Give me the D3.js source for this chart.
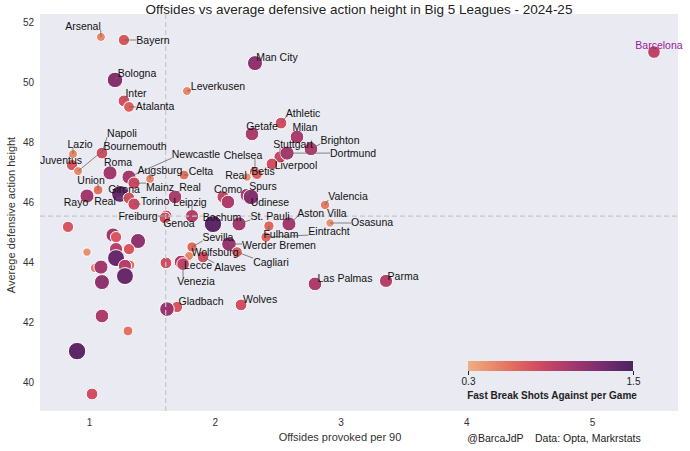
<!DOCTYPE html>
<html><head><meta charset="utf-8">
<script src="https://cdn.jsdelivr.net/npm/d3@7"></script>
<style>body{margin:0;background:#fff;} text{font-family:"Liberation Sans",Arial,sans-serif;}</style>
</head><body><svg id="c" width="690" height="451"></svg>
<script>
// ---- data ----
const teams = ["Arsenal","Bayern","Bologna","Inter","Atalanta","Leverkusen","Man City","Barcelona","Getafe","Athletic","Milan","Brighton","Stuttgart","Dortmund","Liverpool","Chelsea","Betis","Real","Como","","Spurs","Udinese","Valencia","Osasuna","Aston Villa","St. Pauli","Bochum","Fulham","Eintracht","Werder Bremen","Sevilla","Cagliari","Wolfsburg","Alaves","Lecce","Venezia","Las Palmas","Parma","Wolves","Gladbach","","Lazio","Juventus","Bournemouth","Napoli","Roma","Newcastle","Augsburg","Mainz","Celta","Union","Rayo","Girona","Real","Torino","Real","Leipzig","Freiburg","Genoa","","","","","","","","","","","","","","","","","","",""];
const offsides = [1.095,1.278,1.207,1.278,1.318,1.779,2.320,5.493,2.296,2.527,2.654,2.765,2.519,2.575,2.455,2.320,2.336,2.256,2.066,2.105,2.256,2.288,2.877,2.917,2.590,2.193,1.986,2.431,2.408,2.113,1.819,2.177,1.795,1.907,1.732,1.748,2.797,3.362,2.209,1.700,1.620,0.873,0.865,0.913,1.103,1.167,1.318,1.485,1.358,1.755,1.072,0.984,1.247,1.318,1.358,1.684,1.819,1.612,1.604,0.833,1.191,1.215,1.390,0.984,1.215,1.318,1.215,1.048,1.095,1.326,1.286,1.286,1.103,1.103,1.310,0.905,1.024,1.612];
const defHeight = [51.5,51.4,50.07,49.37,49.17,49.7,50.63,51.0,48.27,48.63,48.17,47.77,47.5,47.63,47.27,47.0,46.93,46.83,46.17,46.0,46.23,46.17,45.9,45.3,45.27,45.27,45.27,45.2,44.83,44.6,44.5,44.33,44.2,44.17,44.0,43.93,43.27,43.37,42.57,42.5,42.43,47.6,47.23,47.03,47.63,46.97,46.83,46.77,46.63,46.9,46.4,46.2,46.27,46.13,45.93,46.17,45.53,45.53,45.47,45.17,44.9,44.83,44.7,44.33,44.43,44.43,44.13,43.8,43.83,43.9,43.87,43.53,43.33,42.2,41.7,41.03,39.6,43.97];
const fastBreak = [0.5,0.75,1.2,0.8,0.7,0.5,1.15,0.9,1.0,0.8,1.0,1.0,0.85,1.05,0.8,0.75,0.7,0.45,0.85,1.0,1.0,1.2,0.55,0.45,1.05,1.05,1.4,0.65,0.65,1.1,0.65,0.7,0.5,0.8,1.0,0.9,1.0,0.95,0.8,0.75,1.1,0.5,0.75,0.5,0.8,1.05,1.05,0.5,0.85,0.6,0.6,1.05,1.35,0.8,0.85,1.0,0.95,0.85,0.8,0.75,1.05,0.75,1.15,0.45,0.95,0.75,1.35,0.55,1.05,0.6,0.95,1.35,1.15,1.0,0.6,1.4,0.8,0.8];
const xTicks = [1,2,3,4,5];
const yTicks = [40,42,44,46,48,50,52];
const meanX = 1.61, meanY = 45.53;
const cbTicks = [0.3,1.5];

// ---- layout: label offsets (px from point) ----
const labelOffsets = {
 0:[-18,-11],1:[29,0],2:[22,-7],3:[12,-8],4:[26,-1],5:[31,-5],6:[22,-6],7:[5,-7],8:[10,-8],9:[22,-10],10:[8,-10],
 11:[29,-9],12:[13,-13],13:[66,0],14:[24,1],15:[-12,-17],16:[6,-3],17:[-11,-2],18:[5,-8],20:[16,-9],21:[19,5],
 22:[23,-9],23:[42,-1],24:[33,-11],25:[31,-8],26:[9,-7],27:[12,8],28:[63,-6],29:[50,1],30:[26,-10],31:[34,10],
 32:[26,-4],33:[27,10],34:[17,3],35:[13,17],36:[30,-6],37:[17,-5],38:[19,-6],39:[24,-6],
 41:[7,-10],42:[-11,-5],43:[57,-25],44:[20,-20],45:[8,-11],46:[67,-23],47:[10,-9],48:[26,4],49:[17,-4],50:[-7,-10],
 51:[-11,6],52:[4,-5],53:[-24,3],54:[21,-3],55:[15,-10],56:[-2,-14],57:[-28,0],58:[14,5]
};

const svg = d3.select("#c");
const m = {l:40, r:678, t:14, b:411};
const x = d3.scaleLinear().domain([0.6103,5.684]).range([m.l,m.r]);
const y = d3.scaleLinear().domain([39.033,52.267]).range([m.b,m.t]);
const stops = ["#edb081","#e98d6b","#e3685c","#d14a61","#b13c6c","#8f3371","#6c2b6d","#4b2362"];
const interp = d3.interpolateRgbBasis(stops);
const color = v => interp(Math.max(0,Math.min(1,(v-0.3)/1.2)));
const rad = d3.scaleLinear().domain([0.3,1.5]).range([3.5,9.2]);

svg.append("rect").attr("x",m.l).attr("y",m.t).attr("width",m.r-m.l).attr("height",m.b-m.t).attr("fill","#eaeaf2");

// axes
const xa = svg.append("g").attr("transform",`translate(0,${m.b})`).call(d3.axisBottom(x).tickValues(xTicks).tickSize(0).tickPadding(8).tickFormat(d3.format("d")));
const ya = svg.append("g").attr("transform",`translate(${m.l},0)`).call(d3.axisLeft(y).tickValues(yTicks).tickSize(0).tickPadding(6).tickFormat(d3.format("d")));
[xa,ya].forEach(a=>{a.select(".domain").remove(); a.selectAll("text").attr("font-size",10).attr("fill","#333").style("font-family","Liberation Sans, Arial, sans-serif");});

svg.append("text").attr("x",359).attr("y",14).attr("text-anchor","middle").attr("font-size",13.5).attr("fill","#222").text("Offsides vs average defensive action height in Big 5 Leagues - 2024-25");
svg.append("text").attr("x",340).attr("y",441).attr("text-anchor","middle").attr("font-size",11).attr("fill","#333").text("Offsides provoked per 90");
svg.append("text").attr("transform","translate(15,215) rotate(-90)").attr("text-anchor","middle").attr("font-size",11).attr("fill","#333").text("Averege defensive action height");
svg.append("text").attr("x",554).attr("y",442).attr("text-anchor","middle").attr("font-size",10.5).attr("fill","#222").attr("xml:space","preserve").text("@BarcaJdP    Data: Opta, Markrstats");

const idx = d3.range(teams.length);
// points
svg.append("g").selectAll("circle").data(idx).join("circle")
  .attr("cx",i=>x(offsides[i])).attr("cy",i=>y(defHeight[i])).attr("r",i=>rad(fastBreak[i]))
  .attr("fill",i=>color(fastBreak[i])).attr("stroke","#fff").attr("stroke-width",1);

// mean lines
svg.append("line").attr("x1",x(meanX)).attr("x2",x(meanX)).attr("y1",m.t).attr("y2",m.b).attr("stroke","#c8c8c8").attr("stroke-width",1.2).attr("stroke-dasharray","5,3");
svg.append("line").attr("x1",m.l).attr("x2",m.r).attr("y1",y(meanY)).attr("y2",y(meanY)).attr("stroke","#c8c8c8").attr("stroke-width",1.2).attr("stroke-dasharray","5,3");

// labels
const lg = svg.append("g"), tg = svg.append("g");
idx.filter(i=>teams[i]).forEach(i=>{
  const px=x(offsides[i]), py=y(defHeight[i]);
  const o=labelOffsets[i]||[10,-8];
  const t=tg.append("text").attr("x",px+o[0]).attr("y",py+o[1]).attr("text-anchor","middle").attr("dominant-baseline","central")
    .attr("font-size",10.5).attr("fill",teams[i]==="Barcelona"?"#9a1a9a":"#111").text(teams[i]);
  const b=t.node().getBBox();
  const nx=Math.max(b.x,Math.min(px,b.x+b.width)), ny=Math.max(b.y+2,Math.min(py,b.y+b.height-2));
  if (Math.hypot(nx-px,ny-py)>3) lg.append("line").attr("x1",px).attr("y1",py).attr("x2",nx).attr("y2",ny).attr("stroke","#666").attr("stroke-width",0.8);
});

// colorbar
const cbx = d3.scaleLinear().domain([0.3,1.5]).range([468,633]);
const defs = svg.append("defs");
const gr = defs.append("linearGradient").attr("id","cbg");
d3.range(0,1.001,0.1).forEach(t=>gr.append("stop").attr("offset",t).attr("stop-color",interp(t)));
svg.append("rect").attr("x",468).attr("y",361).attr("width",165).attr("height",10).attr("fill","url(#cbg)");
const cba = svg.append("g").attr("transform","translate(0,371)").call(d3.axisBottom(cbx).tickValues(cbTicks).tickSize(4).tickPadding(3).tickFormat(d3.format(".1f")));
cba.select(".domain").remove();
cba.selectAll("line").attr("stroke","#222");
cba.selectAll("text").attr("font-size",10).attr("fill","#222").style("font-family","Liberation Sans, Arial, sans-serif");
svg.append("text").attr("x",552).attr("y",399).attr("text-anchor","middle").attr("font-size",10).attr("font-weight","bold").attr("fill","#222").text("Fast Break Shots Against per Game");
</script></body></html>
